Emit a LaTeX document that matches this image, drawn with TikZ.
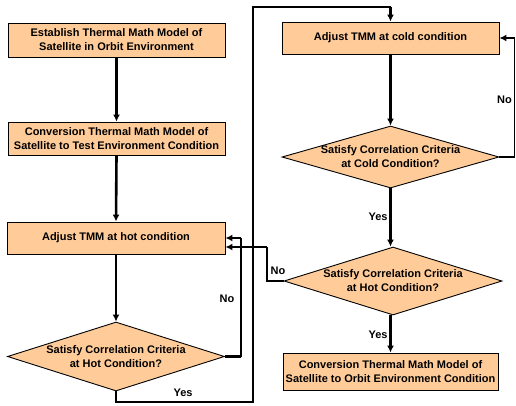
\documentclass[tikz,border=0pt]{standalone}
\usepackage{fontspec}
\setmainfont{Liberation Sans}
\usetikzlibrary{shapes.geometric,arrows.meta}
\definecolor{boxfill}{HTML}{FFCC99}
\begin{document}
\begin{tikzpicture}[x=1pt,y=-1pt,
  txt/.style={font=\fontsize{11}{14}\selectfont\bfseries},
  box/.style={txt,draw=black,line width=0.9pt,fill=boxfill,rectangle,inner sep=0pt,align=center},
  dia/.style={txt,draw=black,line width=0.9pt,fill=boxfill,diamond,inner xsep=-40pt,inner ysep=-12pt,align=center},
  conn/.style={line width=2.6pt},
  arr/.style={conn,-{Latex[length=7pt,width=7pt]}},
  thinconn/.style={line width=1.2pt},
  lbl/.style={txt,inner sep=0pt}]
\useasboundingbox (0,0) rectangle (516,405);
% left column
\node[box,minimum width=217pt,minimum height=34pt] (b1) at (116.5,40) {Establish Thermal Math Model of\\Satellite in Orbit Environment};
\node[box,minimum width=217pt,minimum height=33pt] (b2) at (116.5,138.5) {Conversion Thermal Math Model of\\Satellite to Test Environment Condition};
\node[box,minimum width=218pt,minimum height=32pt] (b3) at (116,238) {Adjust TMM at hot condition};
\node[dia,minimum width=217pt,minimum height=69pt] (d1) at (116,356.5) {Satisfy Correlation Criteria\\at Hot Condition?};
% right column
\node[box,minimum width=217pt,minimum height=32pt] (bc) at (390.5,38) {Adjust TMM at cold condition};
\node[dia,minimum width=217pt,minimum height=62pt] (dc) at (390.5,157) {Satisfy Correlation Criteria\\at Cold Condition?};
\node[dia,minimum width=218pt,minimum height=68pt] (dh) at (393,281) {Satisfy Correlation Criteria\\at Hot Condition?};
\node[box,minimum width=215pt,minimum height=37pt] (bf) at (390.5,371.5) {Conversion Thermal Math Model of\\Satellite to Orbit Environment Condition};
% helper coordinates
\coordinate (hl1) at (241,356.5);
\coordinate (hl2) at (241,238);
\coordinate (y1) at (116,402);
\coordinate (y2) at (253,402);
\coordinate (y3) at (253,7);
\coordinate (y4) at (390.5,7);
\coordinate (cl1) at (514.5,157);
\coordinate (cl2) at (514.5,38);
\coordinate (h2a) at (267,281);
\coordinate (h2b) at (267,247);
\coordinate (h2c) at ([yshift=-9pt]b3.east);
% connectors
\draw[arr] (b1.south) -- (b2.north);
\draw[arr] (b2.south) -- (b3.north);
\draw[arr] (b3.south) -- (d1.north);
\draw[conn] (d1.east) -- (hl1);
\draw[thinconn] (hl1) -- (hl2);
\draw[arr] (hl2) -- (b3.east);
\draw[conn] (d1.south) -- (y1) -- (y2) -- (y3) -- (y4);
\draw[arr] (y4) -- (bc.north);
\draw[arr] (bc.south) -- (dc.north);
\draw[conn] (dc.east) -- (cl1);
\draw[thinconn] (cl1) -- (cl2);
\draw[arr] (cl2) -- (bc.east);
\draw[arr] (dc.south) -- (dh.north -| dc.south);
\draw[conn] (dh.west) -- (h2a) -- (h2b);
\draw[arr] (h2b) -- (h2c);
\draw[arr] (dh.south -| dc.south) -- (bf.north);
% labels
\node[lbl] (lno1) at (227,299) {No};
\node[lbl] (lyes1) at (183,393) {Yes};
\node[lbl] (lno2) at (504.5,99.5) {No};
\node[lbl] (lyes2) at (378,217) {Yes};
\node[lbl] (lno3) at (278,271) {No};
\node[lbl] (lyes3) at (378,335) {Yes};
\end{tikzpicture}
\end{document}
